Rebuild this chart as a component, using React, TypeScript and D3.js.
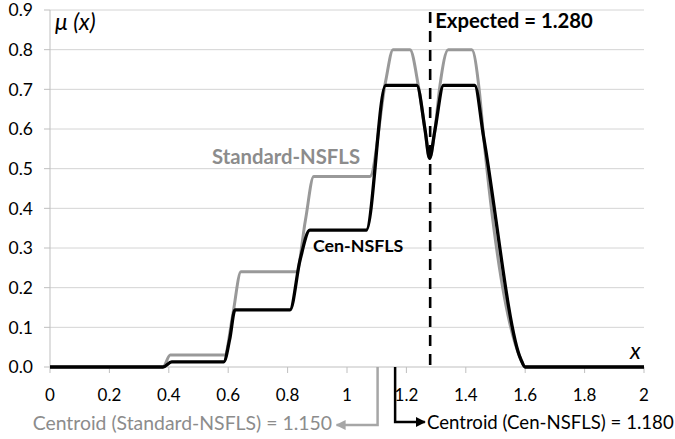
import React from "react";
import * as d3 from "d3";

// ---- data ----
const xTicks = [0, 0.2, 0.4, 0.6, 0.8, 1, 1.2, 1.4, 1.6, 1.8, 2];
const xTickLabels = ["0", "0.2", "0.4", "0.6", "0.8", "1", "1.2", "1.4", "1.6", "1.8", "2"];
const yTicks = [0, 0.1, 0.2, 0.3, 0.4, 0.5, 0.6, 0.7, 0.8, 0.9];
const yTickLabels = ["0.0", "0.1", "0.2", "0.3", "0.4", "0.5", "0.6", "0.7", "0.8", "0.9"];

const cenX = [0, 0.38, 0.41, 0.585, 0.605, 0.623, 0.808, 0.842, 0.875, 1.065, 1.13, 1.14, 1.235, 1.263, 1.278, 1.296, 1.325, 1.335, 1.43, 1.46, 1.585, 1.6, 2];
const cenY = [0, 0, 0.013, 0.013, 0.07, 0.144, 0.144, 0.27, 0.345, 0.345, 0.71, 0.71, 0.71, 0.597, 0.526, 0.597, 0.71, 0.71, 0.71, 0.58, 0.02, 0, 0];

const stdX = [0, 0.38, 0.405, 0.588, 0.615, 0.643, 0.83, 0.86, 0.888, 1.077, 1.13, 1.155, 1.212, 1.24, 1.263, 1.278, 1.296, 1.313, 1.341, 1.42, 1.445, 1.46, 1.585, 1.6, 2];
const stdY = [0, 0, 0.03, 0.03, 0.13, 0.24, 0.24, 0.37, 0.48, 0.48, 0.72, 0.8, 0.8, 0.71, 0.597, 0.526, 0.597, 0.71, 0.8, 0.8, 0.7, 0.58, 0.02, 0, 0];

const expectedX = 1.28;
const expectedLabel = "Expected = 1.280";
const stdCentroidLabel = "Centroid (Standard-NSFLS) = 1.150";
const cenCentroidLabel = "Centroid (Cen-NSFLS) = 1.180";
// hand-drawn annotation arrows (x positions in data units as drawn)
const stdArrowX = 1.103;
const stdArrowTip = 0.965;
const cenArrowX = 1.162;
const cenArrowTip = 1.262;

const W = 675;
const H = 439;
const FONT = "Lato, 'Open Sans', sans-serif";

export default function App() {
  const x = d3.scaleLinear().domain([0, 2]).range([50, 644]);
  const y = d3.scaleLinear().domain([0, 0.9]).range([367, 10]);

  const line = d3
    .line<[number, number]>()
    .x((d) => x(d[0]))
    .y((d) => y(d[1]))
    .curve(d3.curveMonotoneX);

  const stdPts = stdX.map((v, i) => [v, stdY[i]] as [number, number]);
  const cenPts = cenX.map((v, i) => [v, cenY[i]] as [number, number]);

  const gridColor = "#d4d4d4";
  const axisColor = "#bfbfbf";
  const y0 = y(0);

  return (
    <svg
      width={W}
      height={H}
      style={{ position: "absolute", left: 0, top: 0, background: "#fff" }}
      fontFamily={FONT}
    >
      <defs>
        <marker id="arrG" viewBox="0 0 10 10" refX="9" refY="5" markerWidth="4" markerHeight="4" orient="auto">
          <path d="M0,0 L10,5 L0,10 z" fill="#a6a6a6" />
        </marker>
        <marker id="arrK" viewBox="0 0 10 10" refX="9" refY="5" markerWidth="4" markerHeight="4" orient="auto">
          <path d="M0,0 L10,5 L0,10 z" fill="#000" />
        </marker>
      </defs>

      {/* gridlines */}
      {yTicks.slice(1).map((t) => (
        <line key={"g" + t} x1={x(0)} x2={x(2)} y1={y(t)} y2={y(t)} stroke={gridColor} strokeWidth={1} />
      ))}
      {/* y axis */}
      <line x1={x(0)} x2={x(0)} y1={y(0.9)} y2={y0} stroke={axisColor} strokeWidth={1} />
      {yTicks.map((t, i) => (
        <g key={"y" + t}>
          <line x1={x(0) - 6} x2={x(0)} y1={y(t)} y2={y(t)} stroke={axisColor} strokeWidth={1} />
          <text x={33} y={y(t)} dy="0.36em" textAnchor="end" fontSize={17.5} fill="#000">
            {yTickLabels[i]}
          </text>
        </g>
      ))}
      {/* x axis */}
      <line x1={x(0)} x2={x(2)} y1={y0} y2={y0} stroke={axisColor} strokeWidth={1} />
      {xTicks.map((t, i) => (
        <g key={"x" + t}>
          <line x1={x(t)} x2={x(t)} y1={y0} y2={y0 + 6} stroke={axisColor} strokeWidth={1} />
          <text x={x(t)} y={401} textAnchor="middle" fontSize={17} fill="#000">
            {xTickLabels[i]}
          </text>
        </g>
      ))}

      {/* series */}
      <path d={line(stdPts) || ""} fill="none" stroke="#999999" strokeWidth={3} strokeLinejoin="round" />
      <path d={line(cenPts) || ""} fill="none" stroke="#000" strokeWidth={3.3} strokeLinejoin="round" />

      {/* expected line */}
      <line x1={x(expectedX)} x2={x(expectedX)} y1={12} y2={y0} stroke="#000" strokeWidth={2.6} strokeDasharray="11,8" />
      <text x={x(expectedX) + 5} y={28} fontSize={20.3} fontWeight="bold" fill="#000">
        {expectedLabel}
      </text>

      {/* axis titles */}
      <text x={55} y={30} fontSize={23} fontStyle="italic" fill="#000">
        μ (x)
      </text>
      <text x={630} y={359} fontSize={23} fontStyle="italic" fill="#000">
        x
      </text>

      {/* series labels */}
      <text x={212} y={164} fontSize={20.3} fontWeight="bold" fill="#8c8c8c">
        Standard-NSFLS
      </text>
      <text x={313} y={252} fontSize={17.8} fontWeight="bold" fill="#000">
        Cen-NSFLS
      </text>

      {/* centroid annotations */}
      <polyline
        points={`${x(stdArrowX)},${y0} ${x(stdArrowX)},425 ${x(stdArrowTip)},425`}
        fill="none"
        stroke="#a6a6a6"
        strokeWidth={2.5}
        markerEnd="url(#arrG)"
      />
      <text x={332} y={430} textAnchor="end" fontSize={19.4} fill="#8c8c8c">
        {stdCentroidLabel}
      </text>
      <polyline
        points={`${x(cenArrowX)},${y0} ${x(cenArrowX)},422 ${x(cenArrowTip)},422`}
        fill="none"
        stroke="#000"
        strokeWidth={2.5}
        markerEnd="url(#arrK)"
      />
      <text x={427} y={429} fontSize={18.6} fill="#000">
        {cenCentroidLabel}
      </text>
    </svg>
  );
}
